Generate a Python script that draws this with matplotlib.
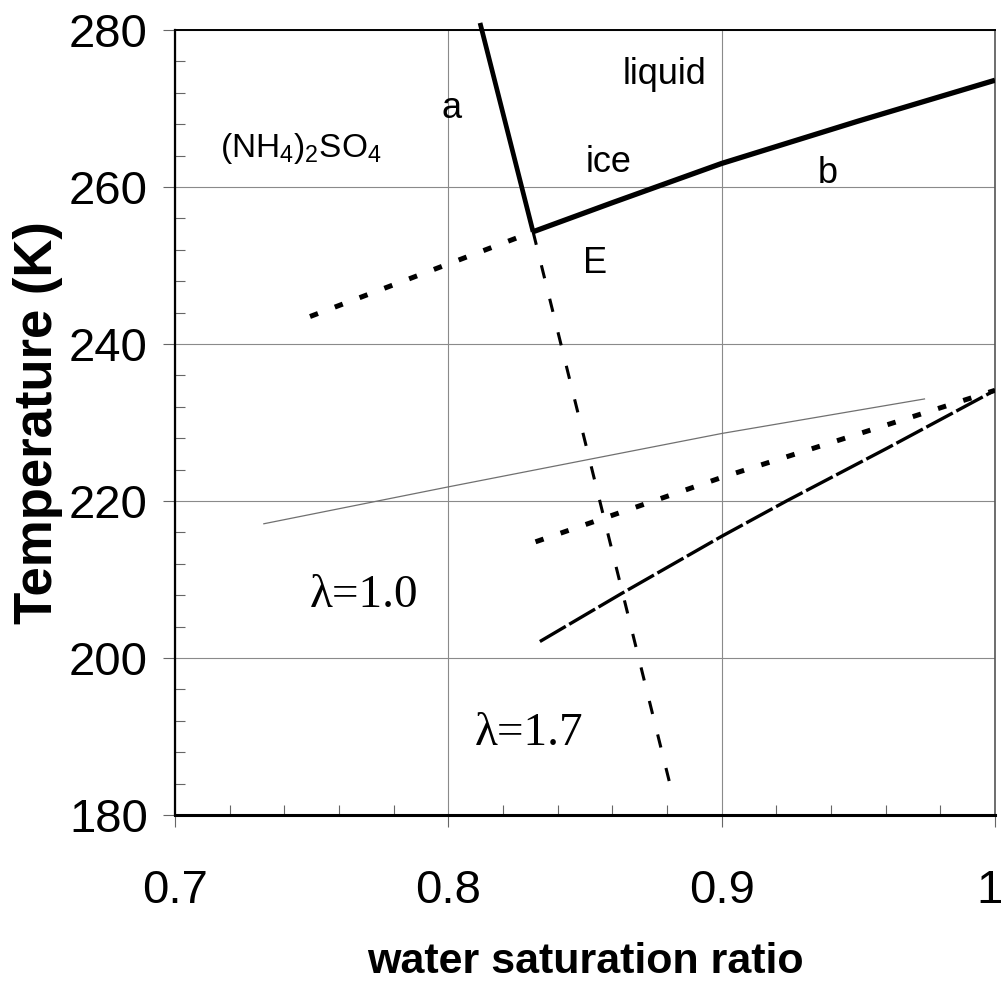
import matplotlib
matplotlib.use('Agg')
import matplotlib.pyplot as plt
import matplotlib.transforms as mtransforms
from matplotlib.ticker import MultipleLocator, FixedLocator, FixedFormatter

plt.rcParams['mathtext.fontset'] = 'custom'
plt.rcParams['mathtext.rm'] = 'Liberation Sans'
plt.rcParams['mathtext.it'] = 'Liberation Sans:italic'
plt.rcParams['mathtext.bf'] = 'Liberation Sans:bold'

SANS = ['Liberation Sans', 'DejaVu Sans']
SERIF = ['Liberation Serif', 'DejaVu Serif']

# ---------------- data (water saturation ratio S, temperature T in K) -------------
# ice-melting curve (a) and ammonium-sulfate solubility curve (b), solid
a_S = [0.8116, 0.8310]
a_T = [280.9, 254.3]
b_S = [0.8310, 0.860, 0.900, 0.950, 1.000]
b_T = [254.3, 258.0, 263.0, 268.4, 273.6]
# metastable extensions below the eutectic point E
b_ext_S = [0.7494, 0.8310]
b_ext_T = [243.5, 254.3]
a_ext_S = [0.8310, 0.8826]
a_ext_T = [254.3, 181.8]
# homogeneous freezing curves
lam10_thin_S = [0.7325, 0.800, 0.900, 0.9742]
lam10_thin_T = [217.1, 221.8, 228.6, 233.0]
lam10_S = [0.8319, 0.900, 0.9722, 1.000]
lam10_T = [214.8, 223.0, 231.0, 234.1]
lam17_S = [0.8335, 0.8633, 0.900, 0.9237, 0.9604, 1.000]
lam17_T = [202.1, 208.2, 215.5, 220.0, 226.7, 234.1]

x_ticks = [0.7, 0.8, 0.9, 1.0]
x_ticklabels = ['0.7', '0.8', '0.9', '1']
y_ticks = [180, 200, 220, 240, 260, 280]
y_ticklabels = ['180', '200', '220', '240', '260', '280']

# ---------------- figure ----------------
fig = plt.figure(figsize=(10.06, 9.86), dpi=100)
ax = fig.add_axes([175 / 1006, 1 - 815 / 986, 820 / 1006, 785 / 986])
ax.set_xlim(0.7, 1.0)
ax.set_ylim(180, 280)

ax.grid(True, which='major', color='#8a8a8a', lw=0.8)
ax.set_axisbelow(True)

ax.plot(a_S, a_T, color='black', lw=3.4, solid_capstyle='butt', clip_on=False, zorder=3)
ax.plot(b_S, b_T, color='black', lw=3.8, solid_capstyle='butt', zorder=3)
ax.plot(b_ext_S, b_ext_T, color='black', lw=3.6, linestyle=(0, (1.7, 3.6)), zorder=3)
ax.plot(a_ext_S, a_ext_T, color='black', lw=2.2, linestyle=(0, (4.4, 6.9)), zorder=3)
ax.plot(lam10_thin_S, lam10_thin_T, color='#707070', lw=0.9, zorder=3)
ax.plot(lam10_S, lam10_T, color='black', lw=3.6, linestyle=(0, (1.7, 3.6)), zorder=3)
ax.plot(lam17_S, lam17_T, color='black', lw=2.4, linestyle=(0, (9, 1.2)), zorder=3)

# ---------------- ticks ----------------
ax.xaxis.set_major_locator(FixedLocator(x_ticks))
ax.xaxis.set_major_formatter(FixedFormatter(x_ticklabels))
ax.yaxis.set_major_locator(FixedLocator(y_ticks))
ax.yaxis.set_major_formatter(FixedFormatter(y_ticklabels))
ax.xaxis.set_minor_locator(MultipleLocator(0.02))
ax.yaxis.set_minor_locator(MultipleLocator(4))
ax.tick_params(which='major', direction='out', length=8.6, width=0.8, color='#666666')
ax.tick_params(which='minor', direction='in', length=7, width=0.8, color='#666666')
ax.tick_params(axis='x', which='major', pad=30)
ax.tick_params(axis='y', which='major', pad=11)
for lab in ax.get_xticklabels() + ax.get_yticklabels():
    lab.set_family(SANS)
    lab.set_fontsize(34)
# keep the last x tick label ("1") inside the figure edge
last = ax.get_xticklabels()[-1]
last.set_transform(last.get_transform() +
                   mtransforms.ScaledTranslation(-6 / 100, 0, fig.dpi_scale_trans))

for side, lw, col in [('left', 1.6, 'black'), ('bottom', 2.2, 'black'),
                      ('top', 1.4, 'black'), ('right', 1.2, '#555555')]:
    ax.spines[side].set_linewidth(lw)
    ax.spines[side].set_color(col)

# ---------------- axis labels ----------------
ax.set_xlabel('water saturation ratio', family=SANS, fontweight='bold', fontsize=31)
ax.xaxis.set_label_coords(0.5, (815 - 973) / 785)
ax.xaxis.label.set_va('baseline')
ax.set_ylabel('Temperature (K)', family=SANS, fontweight='bold', fontsize=38)
ax.yaxis.set_label_coords((38 - 175) / 820, 0.5)
ax.yaxis.label.set_va('center')

# ---------------- annotations ----------------
kw = dict(family=SANS, fontsize=26, ha='center', va='baseline')
ax.text(0.8013, 268.8, 'a', **kw)
ax.text(0.8791, 273.1, 'liquid', **kw)
ax.text(0.8588, 261.9, 'ice', **kw)
ax.text(0.9389, 260.5, 'b', **kw)
ax.text(0.8535, 249.0, 'E', **kw)
ax.text(0.7165, 263.8, r'(NH$_4$)$_2$SO$_4$', family=SANS, fontsize=24,
        ha='left', va='baseline')
ax.text(0.7691, 206.5, 'λ=1.0', family=SERIF, fontsize=34, ha='center', va='baseline')
ax.text(0.8295, 188.9, 'λ=1.7', family=SERIF, fontsize=34, ha='center', va='baseline')

fig.savefig('out.png', dpi=100, facecolor='white')
